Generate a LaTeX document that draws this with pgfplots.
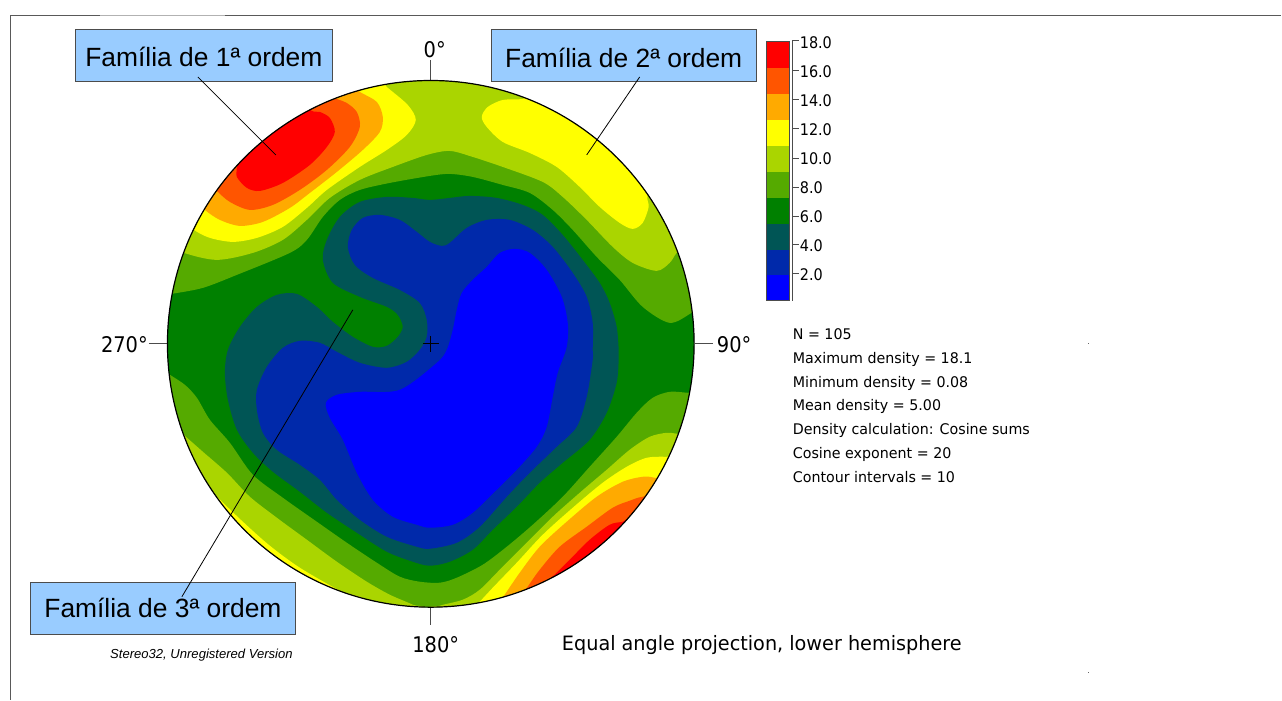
\documentclass[border=0pt]{standalone}
\usepackage{pgfplots}
\pgfplotsset{compat=1.18}
\usepackage{fontspec}
\setmainfont{Liberation Sans}
\newfontfamily\tah[FakeStretch=1.08]{DejaVu Sans Condensed}
\newfontfamily\tahd{DejaVu Sans Condensed}
\definecolor{c0}{HTML}{0000FF}
\definecolor{c1}{HTML}{0029AA}
\definecolor{c2}{HTML}{005555}
\definecolor{c3}{HTML}{008000}
\definecolor{c4}{HTML}{55AA00}
\definecolor{c5}{HTML}{AAD500}
\definecolor{c6}{HTML}{FFFF00}
\definecolor{c7}{HTML}{FFAA00}
\definecolor{c8}{HTML}{FF5500}
\definecolor{c9}{HTML}{FF0000}
\definecolor{lb}{HTML}{99CCFF}
\pgfplotsset{base/.style={scale only axis,width=961.5pt,height=525pt,xmin=0,xmax=1282,ymin=0,ymax=700,y dir=reverse,hide axis,at={(0,0)},anchor=north west},
 reg/.style={fill=#1,draw=none,smooth cycle}}
\newcommand{\stat}[2]{\node[anchor=base west,inner sep=0pt,font=\tah\fontsize{11}{11}\selectfont] at (axis cs:793,#1) {#2};}
\newcommand{\cbl}[2]{\node[anchor=west,inner sep=0pt,font=\tahd\fontsize{12}{12}\selectfont] at (axis cs:800,#1) {#2};}
\begin{document}
\begin{tikzpicture}
\begin{axis}[base,clip=false]
\addplot[fill=white,draw=none] coordinates {(0,0)(1282,0)(1282,700)(0,700)} -- cycle;
\end{axis}
\begin{axis}[base]
\clip (axis cs:431,344) circle[radius=197.6pt];
\addplot[fill=c3,draw=none] coordinates {(100,20)(760,20)(760,660)(100,660)} -- cycle;
% high density: upper rim
\addplot[reg=c4] coordinates {(150,298)(172,294)(203,288)(237,275)(290,253)(307,240)(323,217)(340,200)(360,190)(390,183)(430,176)(450,174)(473,177)(503,185)(530,193)(553,210)(573,230)(597,257)(620,280)(643,307)(670,323)(692,313)(712,300)(740,200)(600,30)(431,20)(200,30)(120,200)};
\addplot[reg=c5] coordinates {(165,243)(184,253)(217,260)(253,253)(283,240)(307,220)(330,198)(360,180)(393,167)(427,155)(450,151)(473,157)(503,167)(543,182)(563,197)(587,220)(613,247)(633,263)(657,271)(670,263)(677,253)(690,240)(730,100)(431,30)(140,60)(130,200)};
\addplot[reg=c6] coordinates {(175,215)(194,230)(210,238)(233,242)(257,238)(283,227)(307,208)(327,190)(360,167)(387,150)(407,135)(416,120)(408,105)(387,87)(370,72)(300,60)(150,120)};
\addplot[reg=c7] coordinates {(190,195)(205,210)(220,220)(240,226)(263,222)(290,208)(310,193)(337,172)(363,150)(380,132)(383,117)(377,102)(360,92)(340,80)(280,70)(170,140)};
\addplot[reg=c8] coordinates {(205,178)(217,191)(230,202)(250,210)(273,205)(300,190)(327,170)(350,147)(360,127)(357,112)(347,103)(337,99)(320,92)(270,85)(190,150)};
\addplot[reg=c9] coordinates {(235,150)(237,167)(237,177)(247,188)(260,191)(283,183)(310,165)(327,147)(335,132)(330,118)(320,112)(312,111)(295,100)(250,110)};
\addplot[reg=c6] coordinates {(482,117)(488,107)(503,100)(523,99)(545,92)(640,110)(690,150)(660,170)(648,195)(649,207)(643,223)(633,229)(620,223)(600,207)(580,187)(557,167)(530,153)(503,142)(487,127)};
% high density: lower rim
\addplot[reg=c4] coordinates {(155,365)(170,375)(185,385)(197,398)(210,420)(230,443)(253,475)(283,498)(317,522)(347,543)(377,563)(400,577)(420,582)(440,583)(457,578)(483,565)(507,547)(533,525)(563,497)(590,467)(617,437)(637,413)(653,398)(670,392)(688,393)(710,395)(750,500)(600,670)(431,680)(200,660)(120,500)};
\addplot[reg=c5] coordinates {(170,423)(186,437)(203,452)(227,473)(250,497)(277,518)(307,540)(337,562)(367,582)(390,595)(413,605)(425,612)(380,660)(200,640)(130,500)};
\addplot[reg=c5] coordinates {(428,612)(440,606)(463,600)(480,590)(500,570)(527,543)(553,517)(580,493)(607,470)(630,450)(650,437)(667,433)(678,434)(700,436)(740,550)(600,670)(470,660)};
\addplot[reg=c6] coordinates {(200,480)(215,495)(243,522)(270,546)(300,568)(340,591)(370,605)(330,650)(200,600)(170,520)};
\addplot[reg=c6] coordinates {(470,612)(480,602)(493,588)(517,563)(543,535)(573,508)(603,483)(627,467)(647,458)(667,457)(690,458)(730,560)(600,660)(490,650)};
\addplot[reg=c7] coordinates {(495,610)(505,595)(520,573)(540,547)(567,522)(597,497)(623,482)(643,477)(655,478)(680,485)(710,570)(600,660)(510,650)};
\addplot[reg=c8] coordinates {(518,602)(528,587)(540,570)(560,547)(587,527)(613,508)(630,501)(643,497)(665,497)(700,570)(600,650)(530,640)};
\addplot[reg=c9] coordinates {(542,588)(555,575)(570,560)(590,540)(610,525)(623,522)(640,518)(680,570)(600,640)(550,620)};
% low density
\addplot[reg=c2] coordinates {(323,260)(327,240)(340,217)(360,202)(387,197)(413,198)(430,200)(450,198)(470,196)(497,198)(523,205)(543,215)(563,235)(583,260)(600,283)(610,303)(617,327)(619,350)(619,360)(617,383)(607,413)(590,440)(563,463)(540,483)(517,507)(493,530)(473,550)(450,562)(430,566)(413,562)(387,552)(357,533)(327,513)(300,492)(273,472)(253,453)(237,430)(228,400)(225,373)(228,350)(240,327)(257,307)(277,295)(297,294)(317,307)(333,322)(353,337)(373,347)(387,346)(398,337)(403,327)(398,315)(387,307)(360,297)(333,283)};
\addplot[reg=c1] coordinates {(348,247)(352,230)(363,218)(380,215)(400,220)(417,232)(430,242)(442,246)(450,243)(467,228)(487,220)(510,220)(533,230)(553,247)(573,273)(587,297)(593,323)(593,350)(593,360)(587,397)(577,427)(557,447)(530,473)(507,497)(480,527)(457,543)(430,549)(417,547)(387,537)(360,520)(337,500)(320,480)(300,465)(277,450)(263,433)(257,410)(257,390)(267,367)(283,348)(300,341)(320,343)(337,352)(360,363)(387,368)(407,362)(420,350)(427,337)(427,320)(420,303)(400,290)(373,278)(355,265)};
\addplot[reg=c0] coordinates {(515,249)(500,253)(487,267)(473,280)(462,293)(457,310)(453,330)(447,350)(437,363)(400,390)(360,392)(337,395)(326,403)(330,418)(343,440)(357,473)(373,500)(393,517)(417,525)(430,528)(453,525)(473,513)(497,490)(517,470)(537,447)(547,427)(553,397)(558,373)(567,347)(568,323)(562,297)(547,270)(530,253)};
\end{axis}
\begin{axis}[base,clip=false]
% frame
\addplot[color=black!65,line width=1pt] coordinates {(10.5,700)(10.5,15.5)(100,15.5)};
\addplot[color=black!30,line width=0.75pt] coordinates {(100,15.5)(225,15.5)};
\addplot[color=black!65,line width=1pt] coordinates {(225,15.5)(1282,15.5)};
% ticks and centre cross
\addplot[color=black!70,line width=0.75pt] coordinates {(431,60)(431,80)};
\addplot[color=black!70,line width=0.75pt] coordinates {(431,608)(431,625)};
\addplot[color=black!70,line width=0.75pt] coordinates {(149,344)(167,344)};
\addplot[color=black!70,line width=0.75pt] coordinates {(695,344)(713,344)};
\addplot[color=black,line width=0.6pt] coordinates {(423,344)(439,344)};
\addplot[color=black,line width=0.6pt] coordinates {(431,336)(431,352)};
\draw[black,line width=0.9pt] (axis cs:431,344) circle[radius=197.6pt];
% tiny specks
\addplot[color=black!60,line width=0.7pt] coordinates {(1088.8,343.5)(1089.6,343.5)};
\addplot[color=black!60,line width=0.7pt] coordinates {(1088.8,672.5)(1089.6,672.5)};
% labels
\addplot[fill=lb,draw=black!70,line width=0.75pt] coordinates {(76,29.5)(333,29.5)(333,82)(76,82)} -- cycle;
\addplot[fill=lb,draw=black!70,line width=0.75pt] coordinates {(491.5,29.5)(756.5,29.5)(756.5,82)(491.5,82)} -- cycle;
\addplot[fill=lb,draw=black!70,line width=0.75pt] coordinates {(30.5,582.5)(295.5,582.5)(295.5,634.5)(30.5,634.5)} -- cycle;
\addplot[color=black,line width=0.6pt] coordinates {(198,77)(276,155)};
\addplot[color=black,line width=0.6pt] coordinates {(640,77)(587,155)};
\addplot[color=black,line width=0.6pt] coordinates {(353,310)(182,597)};
\node[anchor=center,font=\fontsize{19.8}{19}\selectfont] at (axis cs:204,57) {Família de 1ª ordem};
\node[anchor=center,font=\fontsize{19.8}{19}\selectfont] at (axis cs:624,58) {Família de 2ª ordem};
\node[anchor=center,font=\fontsize{19.8}{19}\selectfont] at (axis cs:163,608) {Família de 3ª ordem};
\node[font=\tahd\fontsize{16.2}{17}\selectfont] at (axis cs:435,50) {0°};
\node[font=\tahd\fontsize{16.2}{17}\selectfont] at (axis cs:124.5,345) {270°};
\node[font=\tahd\fontsize{16.2}{17}\selectfont] at (axis cs:734.5,345) {90°};
\node[font=\tahd\fontsize{16.2}{17}\selectfont] at (axis cs:436,645) {180°};
\node[anchor=base west,inner sep=0pt,font=\tah\fontsize{14.85}{16}\selectfont] at (axis cs:562,651) {Equal angle projection, lower hemisphere};
\node[anchor=west,inner sep=0pt,font=\itshape\fontsize{9.8}{10}\selectfont] at (axis cs:110,655) {Stereo32, Unregistered Version};
% statistics
\stat{340}{N = 105}
\stat{364}{Maximum density = 18.1}
\stat{388}{Minimum density = 0.08}
\stat{411}{Mean density = 5.00}
\stat{435}{Density calculation: Cosine sums}
\stat{459}{Cosine exponent = 20}
\stat{483}{Contour intervals = 10}
% colour bar
\addplot[fill=c9,draw=none] coordinates {(767,41)(790,41)(790,68)(767,68)} -- cycle;
\addplot[fill=c8,draw=none] coordinates {(767,68)(790,68)(790,94)(767,94)} -- cycle;
\addplot[fill=c7,draw=none] coordinates {(767,94)(790,94)(790,120)(767,120)} -- cycle;
\addplot[fill=c6,draw=none] coordinates {(767,120)(790,120)(790,146)(767,146)} -- cycle;
\addplot[fill=c5,draw=none] coordinates {(767,146)(790,146)(790,172)(767,172)} -- cycle;
\addplot[fill=c4,draw=none] coordinates {(767,172)(790,172)(790,198)(767,198)} -- cycle;
\addplot[fill=c3,draw=none] coordinates {(767,198)(790,198)(790,224)(767,224)} -- cycle;
\addplot[fill=c2,draw=none] coordinates {(767,224)(790,224)(790,250)(767,250)} -- cycle;
\addplot[fill=c1,draw=none] coordinates {(767,250)(790,250)(790,275)(767,275)} -- cycle;
\addplot[fill=c0,draw=none] coordinates {(767,275)(790,275)(790,301)(767,301)} -- cycle;
\addplot[draw=black!70,line width=0.6pt] coordinates {(767,41)(790,41)(790,301)(767,301)} -- cycle;
\addplot[color=black!70,line width=0.75pt] coordinates {(793,301)(793,41)(799,41)};
\addplot[color=black!70,line width=0.6pt] coordinates {(793,70)(799,70)};
\addplot[color=black!70,line width=0.6pt] coordinates {(793,99)(799,99)};
\addplot[color=black!70,line width=0.6pt] coordinates {(793,128)(799,128)};
\addplot[color=black!70,line width=0.6pt] coordinates {(793,158)(799,158)};
\addplot[color=black!70,line width=0.6pt] coordinates {(793,187)(799,187)};
\addplot[color=black!70,line width=0.6pt] coordinates {(793,216)(799,216)};
\addplot[color=black!70,line width=0.6pt] coordinates {(793,245)(799,245)};
\addplot[color=black!70,line width=0.6pt] coordinates {(793,274)(799,274)};
\cbl{43}{18.0}
\cbl{72}{16.0}
\cbl{101}{14.0}
\cbl{130}{12.0}
\cbl{159}{10.0}
\cbl{188}{8.0}
\cbl{217}{6.0}
\cbl{246}{4.0}
\cbl{275}{2.0}
\end{axis}
\end{tikzpicture}
\end{document}
